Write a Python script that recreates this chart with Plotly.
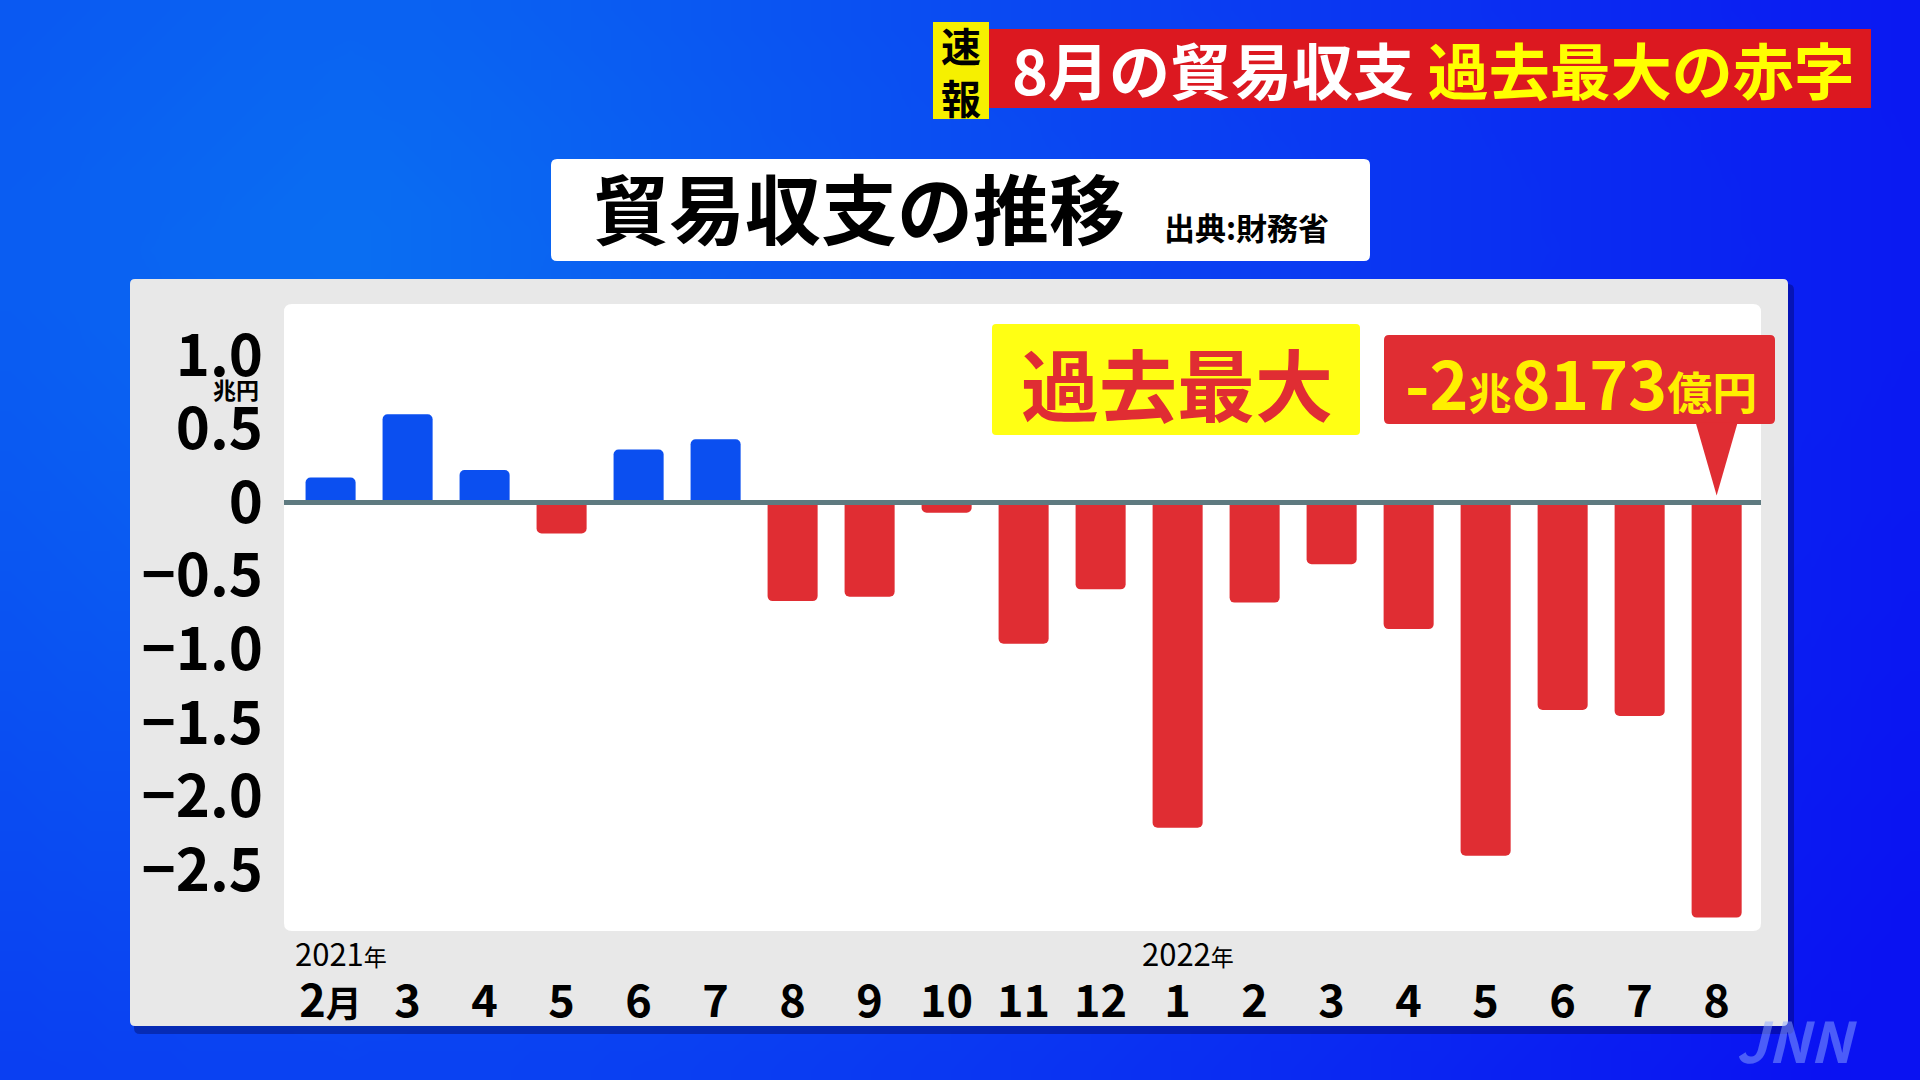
import base64, struct, zlib
import plotly.graph_objects as go

# ---------------- data ----------------
periods = ["2021-02", "2021-03", "2021-04", "2021-05", "2021-06", "2021-07", "2021-08",
           "2021-09", "2021-10", "2021-11", "2021-12", "2022-01", "2022-02", "2022-03",
           "2022-04", "2022-05", "2022-06", "2022-07", "2022-08"]
balance = [0.17, 0.60, 0.22, -0.21, 0.36, 0.43, -0.67, -0.64, -0.07, -0.96, -0.59,
           -2.21, -0.68, -0.42, -0.86, -2.40, -1.41, -1.45, -2.82]
y_ticks = [1.0, 0.5, 0.0, -0.5, -1.0, -1.5, -2.0, -2.5]
y_tick_text = ["1.0", "0.5", "0", "−0.5", "−1.0", "−1.5", "−2.0", "−2.5"]
latest_label = "-2<span style='font-size:43px'>兆</span>8173<span style='font-size:45px'>億円</span>"

W, H = 1920, 1080
FONT = "Noto Sans CJK JP"
BLUE = "#0b4ff0"
RED = "#e02d33"

def px(x):
    return x / W

def py(y):
    return 1 - y / H

# ---------------- background gradient image ----------------
def make_png(w, h, pix):
    raw = b"".join(b"\x00" + bytes(row) for row in pix)
    def chunk(t, d):
        c = struct.pack(">I", len(d)) + t + d
        return c + struct.pack(">I", zlib.crc32(t + d) & 0xffffffff)
    return (b"\x89PNG\r\n\x1a\n" + chunk(b"IHDR", struct.pack(">IIBBBBB", w, h, 8, 2, 0, 0, 0))
            + chunk(b"IDAT", zlib.compress(raw, 9)) + chunk(b"IEND", b""))

gw, gh = 96, 54
rows = []
for j in range(gh):
    row = []
    for i in range(gw):
        X = (i + 0.5) / gw * W
        Y = (j + 0.5) / gh * H
        d = ((X - 350) ** 2 + (Y - 250) ** 2) ** 0.5
        g = max(18, min(110, 112 - 0.055 * d))
        row += [10, int(g), 242]
    rows.append(row)
bg_uri = "data:image/png;base64," + base64.b64encode(make_png(gw, gh, rows)).decode()

# ---------------- helpers ----------------
def rrect_paper(x0, y0, x1, y1, r):
    X0, X1 = px(x0), px(x1)
    Y0, Y1 = py(y0), py(y1)
    rx, ry = r / W, r / H
    return (f"M {X0+rx},{Y0} L {X1-rx},{Y0} Q {X1},{Y0} {X1},{Y0-ry} "
            f"L {X1},{Y1+ry} Q {X1},{Y1} {X1-rx},{Y1} L {X0+rx},{Y1} "
            f"Q {X0},{Y1} {X0},{Y1+ry} L {X0},{Y0-ry} Q {X0},{Y0} {X0+rx},{Y0} Z")

# ---------------- derived labels ----------------
idx = list(range(len(periods)))
years = [p.split("-")[0] for p in periods]
months = [int(p.split("-")[1]) for p in periods]
tick_text = []
for k, m in enumerate(months):
    if k == 0:
        tick_text.append(f"{m}<span style='font-size:36px'>月</span>")
    else:
        tick_text.append(f"{m}")
colors = [BLUE if v >= 0 else RED for v in balance]

fig = go.Figure()
fig.add_trace(go.Bar(x=idx, y=balance, marker=dict(color=colors, line=dict(width=0), cornerradius=5),
                     width=0.65, showlegend=False, hoverinfo="skip"))

shapes = []
# panel shadow + gray panel
shapes.append(dict(type="path", xref="paper", yref="paper", layer="below",
                   path=rrect_paper(134, 284, 1794, 1034, 6), fillcolor="rgba(0,0,70,0.35)", line_width=0))
shapes.append(dict(type="path", xref="paper", yref="paper", layer="below",
                   path=rrect_paper(130, 279, 1788, 1026, 5), fillcolor="#e8e8e8", line_width=0))
# white plot area
shapes.append(dict(type="path", xref="paper", yref="paper", layer="below",
                   path=rrect_paper(284, 304, 1761, 931, 8), fillcolor="#ffffff", line_width=0))
# title box
shapes.append(dict(type="path", xref="paper", yref="paper", layer="below",
                   path=rrect_paper(551, 159, 1370, 261, 6), fillcolor="#ffffff", line_width=0))
# header boxes
shapes.append(dict(type="rect", xref="paper", yref="paper", layer="below",
                   x0=px(989), x1=px(1871), y0=py(108), y1=py(29), fillcolor="#dc1820", line_width=0))
shapes.append(dict(type="rect", xref="paper", yref="paper", layer="below",
                   x0=px(933), x1=px(989), y0=py(119), y1=py(22), fillcolor="#f6f000", line_width=0))
# "過去最大" yellow box
shapes.append(dict(type="path", xref="paper", yref="paper", layer="above",
                   path=rrect_paper(992, 324, 1360, 435, 4), fillcolor="#ffff14", line_width=0))
# zero line
shapes.append(dict(type="line", xref="x domain", yref="y", x0=0, x1=1, y0=0, y1=0,
                   line=dict(color="#5e7a80", width=5), layer="above"))
# red callout box (extends past the plot area) + pointer anchored to the latest bar
last = idx[-1]
shapes.append(dict(type="path", xref="paper", yref="paper", layer="above",
                   path=rrect_paper(1384, 335, 1775, 424, 5), fillcolor=RED, line_width=0))
shapes.append(dict(type="path", xref="x", yref="y", xsizemode="pixel", ysizemode="pixel",
                   xanchor=last, yanchor=0, layer="above",
                   path="M -21,80 L 21,80 L 0,7 Z", fillcolor=RED, line_width=0))

annotations = []
def ann(text, x, y, size, color="black", xanchor="center", yanchor="middle", weight="bold", **kw):
    d = dict(text=text, x=x, y=y, xref=kw.pop("xref", "paper"), yref=kw.pop("yref", "paper"),
             showarrow=False, xanchor=xanchor, yanchor=yanchor,
             font=dict(family=FONT, size=size, color=color, weight=weight))
    d.update(kw)
    annotations.append(d)

# header
ann("速<br>報", px(961), py(71), 40)
ann("<span style='color:#ffffff'>8月の貿易収支</span> <span style='color:#ffff00'>過去最大の赤字</span>",
    px(1433), py(68), 61)
# title
ann("貿易収支の推移", px(591), py(206), 76, xanchor="left")
ann("出典:財務省", px(1162), py(226), 31, xanchor="left")
# unit
ann("兆円", px(261), py(389), 23, xanchor="right")
# year labels
for k in idx:
    if k == 0 or years[k] != years[k - 1]:
        ann(f"{years[k]}<span style='font-size:23px'>年</span>", k, py(952), 31,
            xanchor="left", xref="x", xshift=-38, weight="normal")
# callouts
ann("過去最大", px(1177), py(382), 78, color=RED)
ann(latest_label, px(1581), py(381), 66, color="#ffef00")
# watermark
ann("<i>JNN</i>", px(1797), py(1038), 56, color="rgba(140,165,255,0.5)")

fig.update_layout(
    width=W, height=H, margin=dict(l=0, r=0, t=0, b=0),
    paper_bgcolor="#0a40f0", plot_bgcolor="rgba(0,0,0,0)",
    images=[dict(source=bg_uri, xref="paper", yref="paper", x=0, y=1, sizex=1, sizey=1,
                 sizing="stretch", xanchor="left", yanchor="top", layer="below")],
    shapes=shapes, annotations=annotations,
    xaxis=dict(domain=[px(284), px(1761)], range=[-0.605, 18.576], tickmode="array",
               tickvals=idx, ticktext=tick_text, showgrid=False, zeroline=False, showline=False,
               ticks="", ticklabelstandoff=40,
               tickfont=dict(family=FONT, size=45, color="black", weight="bold")),
    yaxis=dict(domain=[py(931), py(304)], range=[-2.911, 1.3485], tickmode="array",
               tickvals=y_ticks, ticktext=y_tick_text, showgrid=False, zeroline=False,
               showline=False, ticks="", ticklabelstandoff=20,
               tickfont=dict(family=FONT, size=58, color="black", weight="bold")),
    bargap=0.35,
)

fig.write_html(
    "out.html",
    config={"displayModeBar": False},
    post_script="document.body.style.margin='0';document.body.style.overflow='hidden';"
                "document.body.style.background='#0a40f0';",
)
